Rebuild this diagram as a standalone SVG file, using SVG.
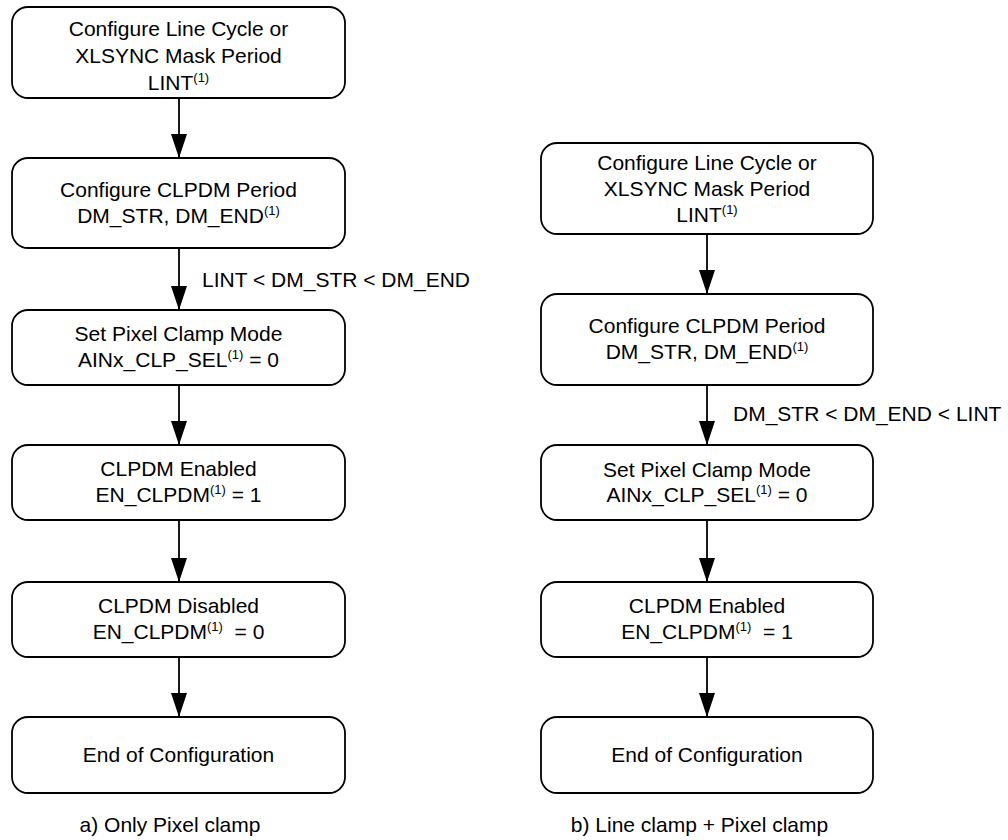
<svg xmlns="http://www.w3.org/2000/svg" width="1008" height="840" viewBox="0 0 1008 840">
<style>
.box{fill:#fff;stroke:#000;stroke-width:1.8}
.t{font-family:"Liberation Sans",Arial,sans-serif;font-size:21px;fill:#000;text-anchor:middle}
.l{font-family:"Liberation Sans",Arial,sans-serif;font-size:21px;fill:#000}
.sup{font-size:13px}
.c{stroke:#000;stroke-width:1.8;fill:none}
</style>
<defs>
<marker id="ah" viewBox="0 0 24 16" refX="24" refY="8" markerWidth="24" markerHeight="16" markerUnits="userSpaceOnUse" orient="auto"><path d="M0,0 L24,8 L0,16 z" fill="#000"/></marker>
</defs>
<rect width="1008" height="840" fill="#fff"/>
<g id="connectors">
<line class="c" x1="179" y1="98" x2="179" y2="158" marker-end="url(#ah)"/>
<line class="c" x1="179" y1="248" x2="179" y2="310" marker-end="url(#ah)"/>
<line class="c" x1="179" y1="385" x2="179" y2="445" marker-end="url(#ah)"/>
<line class="c" x1="179" y1="520" x2="179" y2="582" marker-end="url(#ah)"/>
<line class="c" x1="179" y1="657" x2="179" y2="717" marker-end="url(#ah)"/>
<line class="c" x1="707" y1="234" x2="707" y2="294" marker-end="url(#ah)"/>
<line class="c" x1="707" y1="385" x2="707" y2="445" marker-end="url(#ah)"/>
<line class="c" x1="707" y1="520" x2="707" y2="582" marker-end="url(#ah)"/>
<line class="c" x1="707" y1="657" x2="707" y2="717" marker-end="url(#ah)"/>
<text class="l" x="202" y="287">LINT &lt; DM_STR &lt; DM_END</text>
<text class="l" x="733" y="421">DM_STR &lt; DM_END &lt; LINT</text>
</g>
<g id="a1">
<rect class="box" x="12" y="7" width="333" height="91" rx="16"/>
<text class="t" x="178.5" y="36">Configure Line Cycle or</text>
<text class="t" x="178.5" y="63">XLSYNC Mask Period</text>
<text class="t" x="178.5" y="90">LINT<tspan class="sup" dy="-8">(1)</tspan></text>
</g>
<g id="a2">
<rect class="box" x="12" y="158" width="333" height="90" rx="16"/>
<text class="t" x="178.5" y="197">Configure CLPDM Period</text>
<text class="t" x="178.5" y="223">DM_STR, DM_END<tspan class="sup" dy="-8">(1)</tspan></text>
</g>
<g id="a3">
<rect class="box" x="12" y="310" width="333" height="75" rx="16"/>
<text class="t" x="178.5" y="341">Set Pixel Clamp Mode</text>
<text class="t" x="178.5" y="367">AINx_CLP_SEL<tspan class="sup" dy="-8">(1)</tspan><tspan dy="8"> = 0</tspan></text>
</g>
<g id="a4">
<rect class="box" x="12" y="445" width="333" height="75" rx="16"/>
<text class="t" x="178.5" y="476">CLPDM Enabled</text>
<text class="t" x="178.5" y="502">EN_CLPDM<tspan class="sup" dy="-8">(1)</tspan><tspan dy="8"> = 1</tspan></text>
</g>
<g id="a5">
<rect class="box" x="12" y="582" width="333" height="75" rx="16"/>
<text class="t" x="178.5" y="613">CLPDM Disabled</text>
<text class="t" x="178.5" y="639" xml:space="preserve">EN_CLPDM<tspan class="sup" dy="-8">(1)</tspan><tspan dy="8">  = 0</tspan></text>
</g>
<g id="a6">
<rect class="box" x="12" y="717" width="333" height="76" rx="16"/>
<text class="t" x="178.5" y="762">End of Configuration</text>
</g>
<g id="b1">
<rect class="box" x="541" y="143" width="332" height="91" rx="16"/>
<text class="t" x="707" y="170">Configure Line Cycle or</text>
<text class="t" x="707" y="196">XLSYNC Mask Period</text>
<text class="t" x="707" y="222">LINT<tspan class="sup" dy="-8">(1)</tspan></text>
</g>
<g id="b2">
<rect class="box" x="541" y="294" width="332" height="91" rx="16"/>
<text class="t" x="707" y="333">Configure CLPDM Period</text>
<text class="t" x="707" y="359">DM_STR, DM_END<tspan class="sup" dy="-8">(1)</tspan></text>
</g>
<g id="b3">
<rect class="box" x="541" y="445" width="332" height="75" rx="16"/>
<text class="t" x="707" y="477">Set Pixel Clamp Mode</text>
<text class="t" x="707" y="502">AINx_CLP_SEL<tspan class="sup" dy="-8">(1)</tspan><tspan dy="8"> = 0</tspan></text>
</g>
<g id="b4">
<rect class="box" x="541" y="582" width="332" height="75" rx="16"/>
<text class="t" x="707" y="613">CLPDM Enabled</text>
<text class="t" x="707" y="639" xml:space="preserve">EN_CLPDM<tspan class="sup" dy="-8">(1)</tspan><tspan dy="8">  = 1</tspan></text>
</g>
<g id="b5">
<rect class="box" x="541" y="717" width="332" height="76" rx="16"/>
<text class="t" x="707" y="762">End of Configuration</text>
</g>
<g id="captions">
<text class="t" x="170" y="832">a) Only Pixel clamp</text>
<text class="t" x="699.5" y="832">b) Line clamp + Pixel clamp</text>
</g>
</svg>
